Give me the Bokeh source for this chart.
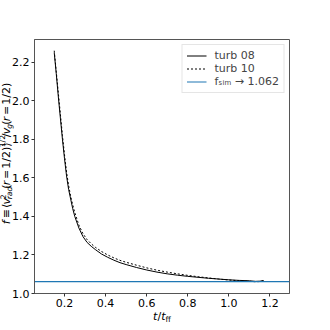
import math
from bokeh.plotting import figure
from bokeh.layouts import row, column
from bokeh.models import Label, FixedTicker, Legend, LegendItem, Range1d
from bokeh.embed import file_html
from bokeh.resources import INLINE

# ---- data ----
t08 = [0.15, 0.16, 0.17, 0.18, 0.19, 0.20, 0.21, 0.22, 0.23, 0.24, 0.25, 0.27, 0.29, 0.31,
       0.33, 0.35, 0.38, 0.41, 0.44, 0.47, 0.50, 0.55, 0.60, 0.65, 0.70, 0.75, 0.80, 0.85,
       0.90, 0.95, 1.00, 1.05, 1.10, 1.13, 1.15, 1.17]
f08 = [2.25, 2.14, 2.02, 1.91, 1.80, 1.70, 1.61, 1.54, 1.49, 1.44, 1.40, 1.34, 1.295, 1.265,
       1.245, 1.228, 1.205, 1.188, 1.173, 1.160, 1.150, 1.135, 1.122, 1.111, 1.102, 1.095,
       1.089, 1.084, 1.079, 1.075, 1.071, 1.068, 1.066, 1.063, 1.064, 1.066]
t10 = [0.15, 0.16, 0.17, 0.18, 0.19, 0.20, 0.21, 0.22, 0.23, 0.24, 0.25, 0.27, 0.29, 0.31,
       0.33, 0.35, 0.38, 0.41, 0.44, 0.47, 0.50, 0.55, 0.60, 0.65, 0.70, 0.75, 0.80, 0.85,
       0.90, 0.95, 1.00, 1.05, 1.10, 1.13, 1.15, 1.17]
f10 = [2.26, 2.15, 2.04, 1.93, 1.82, 1.72, 1.63, 1.56, 1.505, 1.46, 1.42, 1.355, 1.31, 1.28,
       1.258, 1.24, 1.218, 1.200, 1.185, 1.172, 1.162, 1.147, 1.133, 1.121, 1.111, 1.102,
       1.094, 1.087, 1.081, 1.075, 1.070, 1.066, 1.063, 1.061, 1.062, 1.068]
f_sim = 1.062
series_names = ["turb 08", "turb 10", "f\u209b\u1d62\u2098 \u2192 1.062"]
x_ticks = [0.2, 0.4, 0.6, 0.8, 1.0, 1.2]
x_tick_labels = ["0.2", "0.4", "0.6", "0.8", "1.0", "1.2"]
y_ticks = [1.0, 1.2, 1.4, 1.6, 1.8, 2.0, 2.2]
y_tick_labels = ["1.0", "1.2", "1.4", "1.6", "1.8", "2.0", "2.2"]

# ---- layout ----
W, H = 314, 311
BL, BR, BT, BB = 34, 25, 39, 18
WY = 30          # y-title strip (overlaps the main figure's left border)
PAGE_M = 8       # the strip reaches into the page margin, like the reference's title
HX = 24          # x-title strip (overlaps the main figure's bottom border)
X0, X1 = 0.054, 1.295
Y0, Y1 = 1.0, 2.318
FONT = "DejaVu Sans"

p = figure(width=W, height=H, x_range=(X0, X1), y_range=(Y0, Y1),
           output_backend="svg", toolbar_location=None,
           min_border_left=BL, min_border_right=BR, min_border_top=BT, min_border_bottom=BB)
p.margin = (0, 0, 0, -(WY - PAGE_M))
p.border_fill_alpha = 0
p.xgrid.visible = False
p.ygrid.visible = False
p.outline_line_color = "#555555"
p.outline_line_width = 1

p.xaxis.ticker = FixedTicker(ticks=x_ticks)
p.xaxis.major_label_overrides = dict(zip(x_ticks, x_tick_labels))
p.yaxis.ticker = FixedTicker(ticks=y_ticks)
p.yaxis.major_label_overrides = dict(zip(y_ticks, y_tick_labels))
for ax in (p.xaxis[0], p.yaxis[0]):
    ax.major_label_text_font = FONT
    ax.major_label_text_font_size = "11px"
    ax.major_label_text_color = "black"
    ax.axis_line_color = "#555555"
    ax.major_tick_line_color = "#333333"
    ax.major_tick_out = 3
    ax.major_tick_in = 0
    ax.minor_tick_out = 0
    ax.minor_tick_in = 0
p.xaxis.major_label_standoff = 2
p.yaxis.major_label_standoff = 2

r08 = p.line(t08, f08, line_color="black", line_width=1)
r10 = p.line(t10, f10, line_color="black", line_width=1, line_dash="2 2")
rs = p.line([X0, X1], [f_sim, f_sim], line_color="#1f77b4", line_width=1.2)

legend = Legend(items=[LegendItem(label=series_names[0], renderers=[r08]),
                       LegendItem(label=series_names[1], renderers=[r10]),
                       LegendItem(label=series_names[2], renderers=[rs])],
                location="top_right", margin=5, padding=4, spacing=0,
                label_height=13, glyph_height=13, glyph_width=20, label_standoff=8,
                label_text_font=FONT, label_text_font_size="11px",
                border_line_color="#cccccc", background_fill_alpha=0.8)
p.add_layout(legend)

ADV = {'f': 0.352, '\u2261': 0.838, '\u27e8': 0.390, '\u27e9': 0.390, 'v': 0.592, '2': 0.636,
       'r': 0.411, 'a': 0.613, 'd': 0.635, '(': 0.390, ')': 0.390, '=': 0.838, '1': 0.636,
       '/': 0.337, 'g': 0.635, 't': 0.392, ' ': 0.30}


def tw(s, size):
    return sum(ADV.get(c, 0.6) for c in s) * size


M, S = 11, 7.7
SUP, SUB = 4, -2.5
SP = [(" ", M, 0, "normal")]


def draw_pieces(fig, groups, base, start, vertical):
    cur = 0.0
    for g in groups:
        adv = 0.0
        for (txt, size, shift, style) in g:
            adv = max(adv, tw(txt, size))
            if txt.strip() == "":
                continue
            if vertical:
                sx, sy, ang = base - shift, start - cur, math.pi / 2
            else:
                sx, sy, ang = start + cur, base - shift, 0
            fig.add_layout(Label(x=sx, y=sy, text=txt, angle=ang, text_font=FONT,
                                 text_font_size=f"{size}px", text_font_style=style,
                                 text_color="black", text_align="left",
                                 text_baseline="alphabetic"))
        cur += adv


def total(groups):
    return sum(max(tw(a[0], a[1]) for a in g) for g in groups)


# ---- title strips (pixel-unit figures holding the mathtext-like titles) ----
def strip(w, h):
    f = figure(width=w, height=h, x_range=Range1d(0, w), y_range=Range1d(h, 0),
               output_backend="svg", toolbar_location=None,
               x_axis_type=None, y_axis_type=None, min_border=0,
               min_border_left=0, min_border_right=0, min_border_top=0, min_border_bottom=0)
    f.outline_line_color = None
    f.border_fill_alpha = 0
    f.background_fill_alpha = 0
    return f


ylabel = [[("f", M, 0, "italic")], SP, [("\u2261", M, 0, "normal")], SP,
          [("\u27e8", M, 0, "normal")], [("v", M, 0, "italic")],
          [("2", S, SUP, "normal"), ("rad", S, SUB, "italic")],
          [("(", M, 0, "normal")], [("r", M, 0, "italic")], SP, [("=", M, 0, "normal")], SP,
          [("1/2)\u27e9", M, 0, "normal")], [("1/2", S, SUP + 0.5, "normal")],
          [("/", M, 0, "normal")], [("v", M, 0, "italic")], [("g", S, SUB, "italic")],
          [("(", M, 0, "normal")], [("r", M, 0, "italic")], SP, [("=", M, 0, "normal")], SP,
          [("1/2)", M, 0, "normal")]]
ystrip = strip(WY, H)
ystrip.margin = (0, 0, 0, -PAGE_M)
draw_pieces(ystrip, ylabel, 14, 142 + total(ylabel) / 2, True)

xlabel = [[("t", M, 0, "italic")], [("/", M, 0, "normal")], [("t", M, 0, "italic")],
          [("ff", S, SUB, "normal")]]
xstrip = strip(W, HX)
xstrip.margin = (-(HX - 11), 0, 0, 0)
frame_mid = BL + (W - BL - BR) / 2
draw_pieces(xstrip, xlabel, HX - 6, frame_mid - total(xlabel) / 2, False)

layout = column(row(ystrip, p, spacing=0), xstrip, spacing=0)
open("out.html", "w").write(file_html(layout, INLINE))
